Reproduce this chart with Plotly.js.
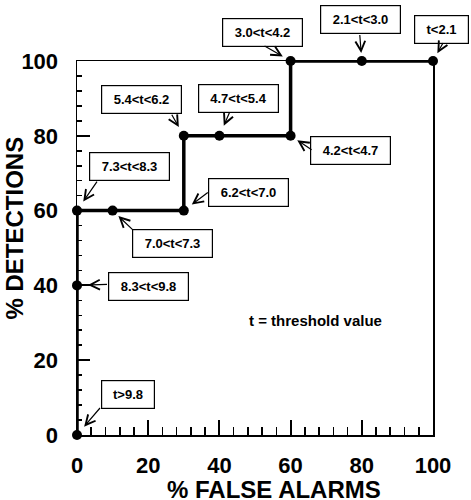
<!DOCTYPE html>
<html>
<head>
<meta charset="utf-8">
<script src="https://cdn.plot.ly/plotly-3.0.1.min.js"></script>
<style>html,body{margin:0;padding:0;background:#fff;}#chart{width:471px;height:500px;}</style>
</head>
<body>
<div id="chart"></div>
<script>
// ---- data ----
var falseAlarms = [0, 0, 0, 10, 30, 30, 40, 60, 60, 80, 100];
var detections  = [0, 40, 60, 60, 60, 80, 80, 80, 100, 100, 100];
var thresholdLabels = ['t>9.8', '8.3<t<9.8', '7.3<t<8.3', '7.0<t<7.3', '6.2<t<7.0',
                       '5.4<t<6.2', '4.7<t<5.4', '4.2<t<4.7', '3.0<t<4.2', '2.1<t<3.0', 't<2.1'];
var xTickVals = [0, 20, 40, 60, 80, 100];
var yTickVals = [0, 20, 40, 60, 80, 100];
var xTitle = '% FALSE ALARMS';
var yTitle = '% DETECTIONS';
var noteText = 't = threshold value';

// ---- label placement (pixels, styling only) ----
var boxDx = [51, 71, 52, 60, 65, -42, 19, 60, -28, -1, 8];
var boxDy = [-41, 1, -44, 33, -18, -36, -37, 15, -29, -42, -32];
var boxOuterW = [54, 81, 81, 81, 81, 81, 81, 81, 81, 81, 55];
var tailDx = [23, 30, 20, 20, 24, -12, 10, 21, -26, -2, 10];
var tailDy = [-27, -1, -29, 19, -18, -21, -23, 14, -15, -26, -18];
var tipGap = [11, 11, 11, 8, 10, 10, 11, 8, 9, 8, 9];

var FONT = 'Liberation Sans, Arial, Helvetica, sans-serif';
var PAD = 5, BW = 1.2;

var curve = {
  x: falseAlarms, y: detections,
  type: 'scatter', mode: 'lines+markers',
  line: {color: '#000', width: 3.5},
  marker: {color: '#000', size: 10},
  cliponaxis: false, hoverinfo: 'skip'
};

var annotations = [];
for (var i = 0; i < thresholdLabels.length; i++) {
  annotations.push({
    x: falseAlarms[i], y: detections[i], xref: 'x', yref: 'y',
    text: thresholdLabels[i], showarrow: false,
    xshift: boxDx[i], yshift: -boxDy[i],
    xanchor: 'center', yanchor: 'middle',
    width: boxOuterW[i] - 2 * (PAD + BW), height: 29 - 2 * (PAD + BW),
    bordercolor: '#000', borderwidth: BW, borderpad: PAD, bgcolor: '#fff',
    font: {family: FONT, size: 13, color: '#000', weight: 'bold'}
  });
  annotations.push({
    x: falseAlarms[i], y: detections[i], xref: 'x', yref: 'y',
    text: '', showarrow: true, ax: tailDx[i], ay: tailDy[i],
    arrowhead: 5, arrowsize: 1.6, arrowwidth: 1.2, arrowcolor: '#000',
    standoff: tipGap[i], borderpad: 0, borderwidth: 0
  });
}
annotations.push({
  x: 67, y: 30.7, xref: 'x', yref: 'y', text: noteText, showarrow: false,
  xanchor: 'center', yanchor: 'middle',
  font: {family: FONT, size: 15, color: '#000', weight: 'bold'}
});
annotations.push({
  x: -0.176, y: 0.553, xref: 'paper', yref: 'paper', text: yTitle, showarrow: false,
  textangle: -90, xanchor: 'center', yanchor: 'middle',
  font: {family: FONT, size: 24, color: '#000', weight: 'bold'}
});
annotations.push({
  x: 0.552, y: -0.145, xref: 'paper', yref: 'paper', text: xTitle, showarrow: false,
  xanchor: 'center', yanchor: 'middle',
  font: {family: FONT, size: 24, color: '#000', weight: 'bold'}
});

function makeAxis(tickVals, majorLen, minorLen, standoff) {
  return {
    range: [0, 100], showgrid: false, zeroline: false,
    showline: true, linecolor: '#000', linewidth: 1.5, mirror: true,
    tickmode: 'linear', tick0: tickVals[0], dtick: tickVals[1] - tickVals[0],
    ticks: 'inside', ticklen: majorLen, tickcolor: '#000', tickwidth: 2,
    ticklabelstandoff: standoff,
    tickfont: {family: FONT, size: 22, color: '#000', weight: 'bold'},
    minor: {tickmode: 'linear', dtick: 4, ticks: 'inside', ticklen: minorLen,
            tickwidth: 1.6, tickcolor: '#000', showgrid: false},
    fixedrange: true
  };
}

var layout = {
  width: 471, height: 500,
  margin: {l: 77, r: 38, t: 61, b: 65},
  paper_bgcolor: '#fff', plot_bgcolor: '#fff',
  showlegend: false,
  xaxis: makeAxis(xTickVals, 15, 8, 10),
  yaxis: makeAxis(yTickVals, 13, 5, 13),
  annotations: annotations
};

Plotly.newPlot('chart', [curve], layout, {staticPlot: true, displayModeBar: false});
</script>
</body>
</html>
